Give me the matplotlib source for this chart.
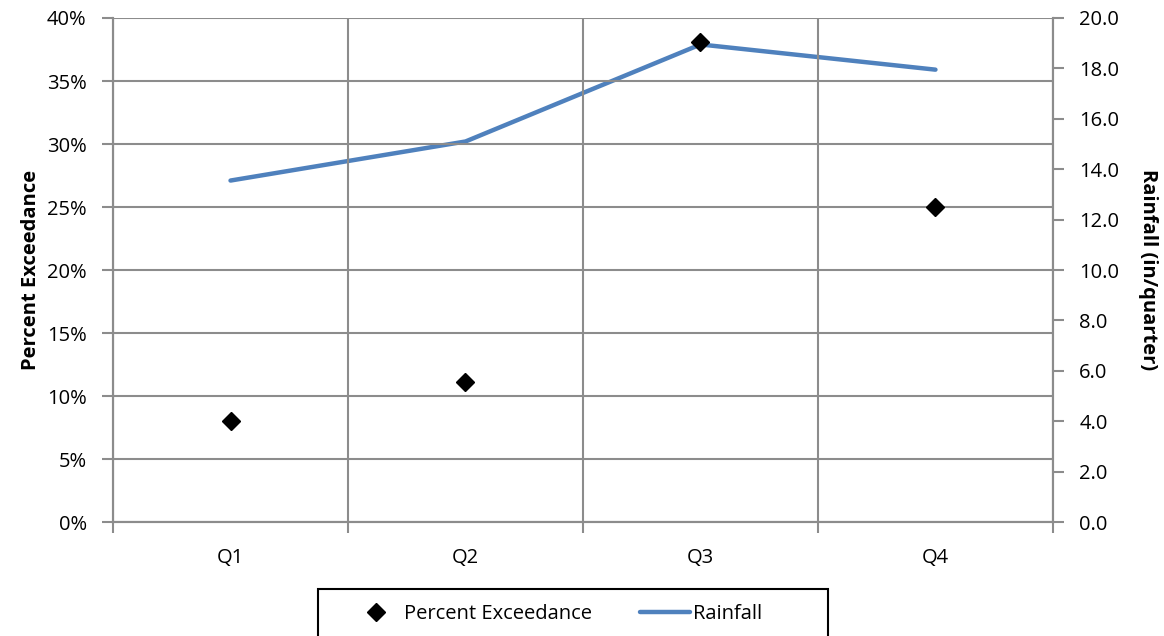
import numpy as np
import matplotlib.pyplot as plt
from matplotlib.patches import Rectangle

# data
quarters = ['Q1', 'Q2', 'Q3', 'Q4']
percent_exceedance = [8.0, 11.1, 38.1, 25.0]   # percent
rainfall = [13.55, 15.1, 18.95, 17.95]          # in/quarter

plt.rcParams['font.family'] = ['Open Sans', 'DejaVu Sans']
grid_color = '#8c8c8c'
fs = 14.5
W, H = 1164, 636

fig = plt.figure(figsize=(W / 100, H / 100), dpi=100)
ax = fig.add_axes([0.0971, 0.1792, 0.8075, 0.7925])
ax2 = ax.twinx()

x = np.arange(len(quarters))

# left axis: percent exceedance as diamonds
ax.plot(x, percent_exceedance, linestyle='none', marker='D', markersize=9,
        color='black', label='Percent Exceedance', zorder=4)
ax.set_ylim(0, 40)
ax.set_yticks(np.arange(0, 41, 5))
ax.set_yticklabels([f'{v}%' for v in range(0, 41, 5)])
ax.set_xlim(-0.5, len(quarters) - 0.5)
ax.set_xticks(x)
ax.set_xticklabels(quarters)
ax.set_xticks(np.arange(-0.5, len(quarters), 1), minor=True)
ax.grid(True, which='major', axis='y', color=grid_color, linewidth=1.5)
ax.grid(True, which='minor', axis='x', color=grid_color, linewidth=1.5)
ax.tick_params(axis='x', which='major', length=0, pad=19, labelsize=fs)
ax.tick_params(axis='x', which='minor', length=8, width=1.5, color=grid_color)
ax.tick_params(axis='y', length=8, width=1.5, color=grid_color, labelsize=fs, pad=11)
ax.set_ylabel('Percent Exceedance', fontsize=fs, fontweight='bold', labelpad=4)

# right axis: rainfall line
ax2.plot(x, rainfall, color='#4F81BD', linewidth=3.2, label='Rainfall',
         solid_capstyle='round', zorder=3)
ax2.set_ylim(0, 20)
ax2.set_yticks(np.arange(0, 21, 2))
ax2.set_yticklabels([f'{v:.1f}' for v in range(0, 21, 2)])
ax2.tick_params(axis='y', length=8, width=1.5, color=grid_color, labelsize=fs, pad=11)
ax2.set_ylabel('Rainfall (in/quarter)', fontsize=fs, fontweight='bold',
               rotation=270, labelpad=28)

for a in (ax, ax2):
    a.spines['top'].set_visible(False)
    for s in ('left', 'right', 'bottom'):
        a.spines[s].set_color(grid_color)
        a.spines[s].set_linewidth(1.5)

ax.set_zorder(ax2.get_zorder() + 1)
ax.patch.set_visible(False)

# legend without its own frame, with a wide box drawn around it
h1, l1 = ax.get_legend_handles_labels()
h2, l2 = ax2.get_legend_handles_labels()
fig.legend(h1 + h2, l1 + l2, loc='center left', ncol=2,
           bbox_to_anchor=(351 / W, 1 - 614 / H), fontsize=fs,
           frameon=False, borderpad=0, borderaxespad=0,
           handlelength=2.5, handletextpad=0.15, columnspacing=2.35)
fig.patches.append(Rectangle((318 / W, -0.05), 510 / W, 0.05 + 1 - 589 / H,
                             transform=fig.transFigure, fill=False,
                             edgecolor='black', linewidth=1.5))

fig.savefig('out.png', dpi=100)
